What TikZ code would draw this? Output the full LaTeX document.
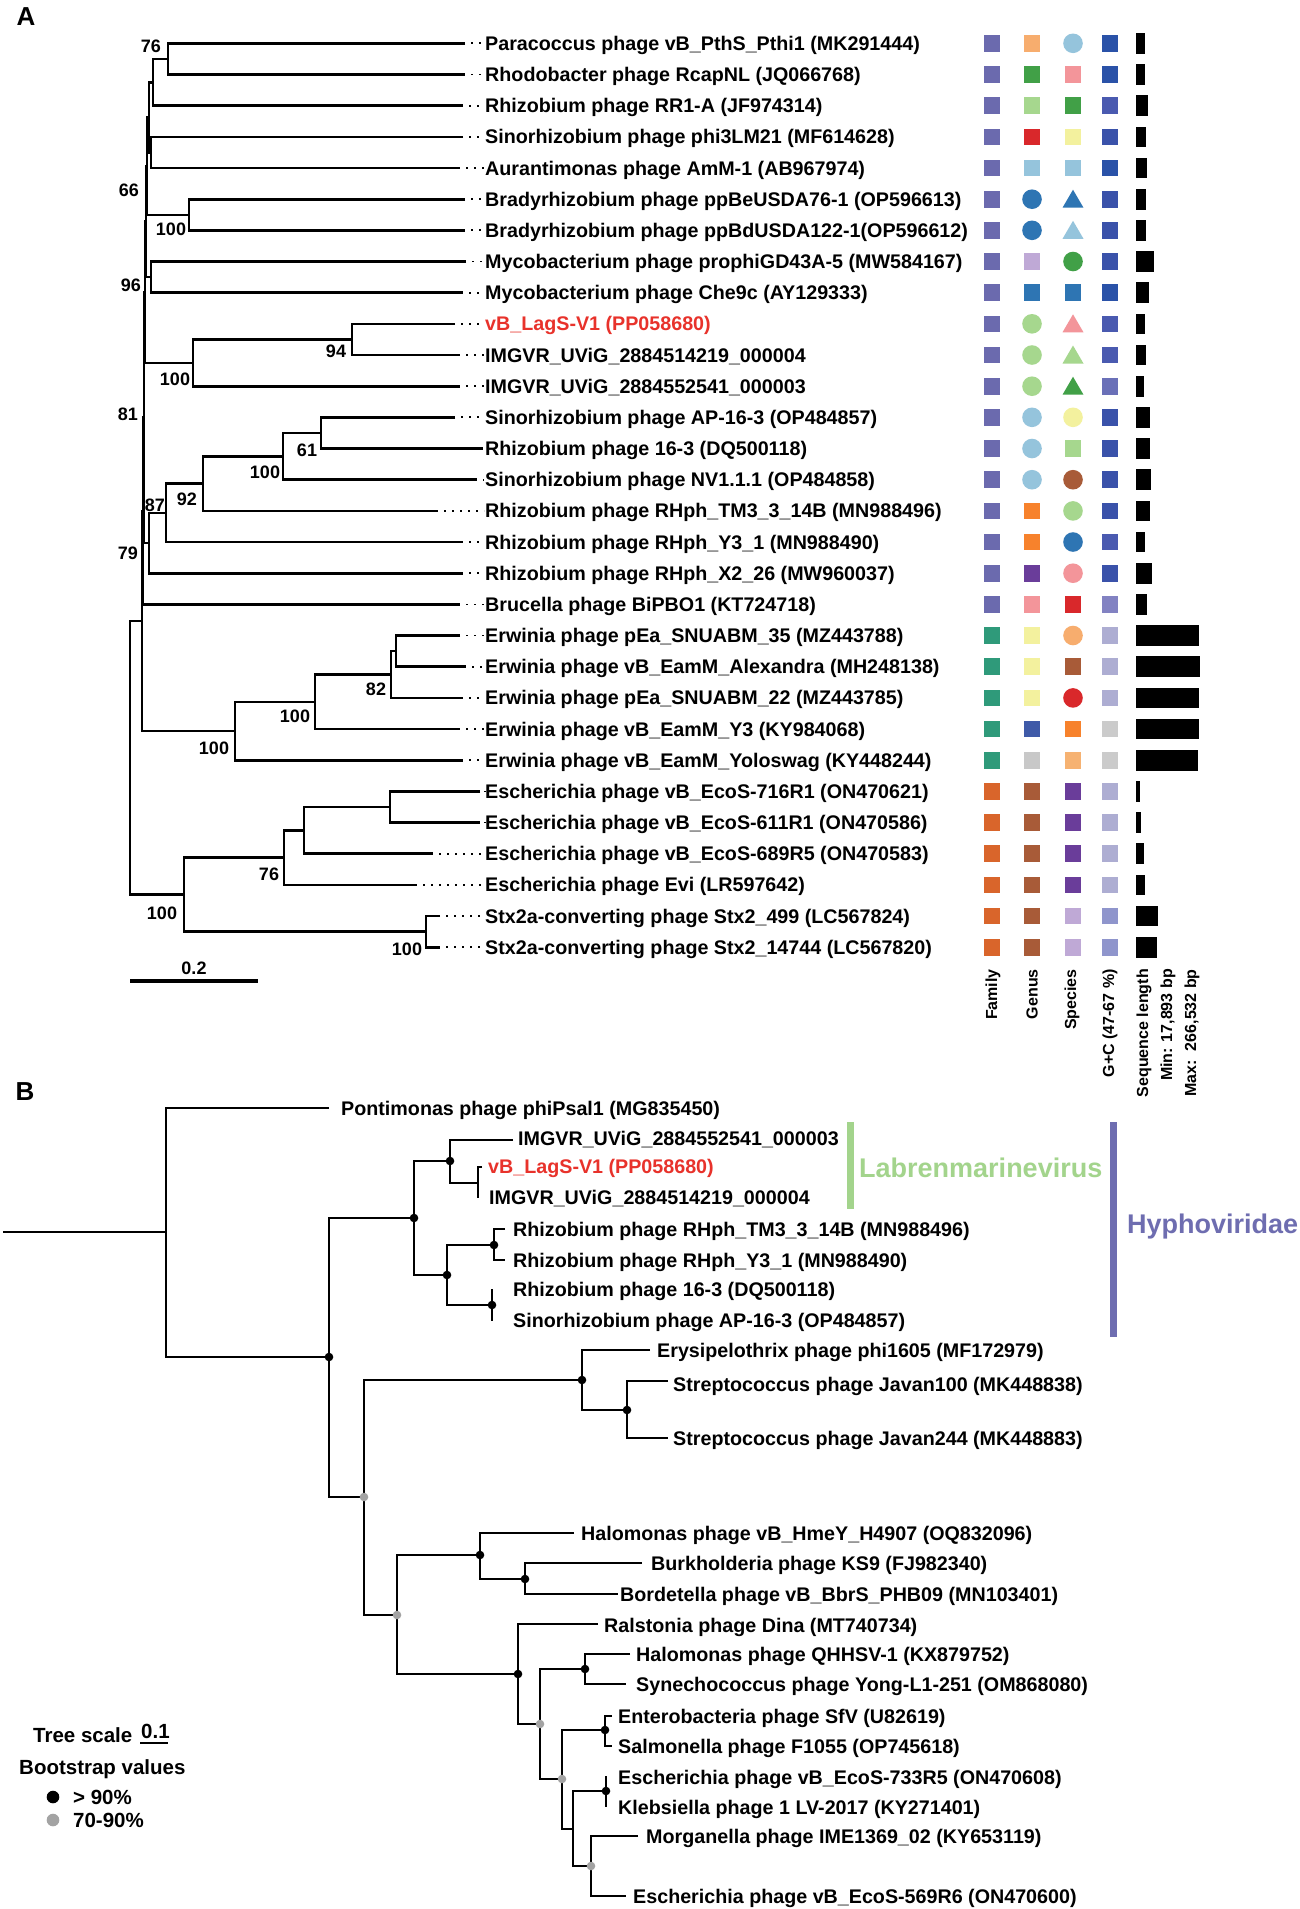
\documentclass[tikz,border=0pt]{standalone}
\usepackage{fontspec}
\setmainfont{Liberation Sans}
\definecolor{fam1}{HTML}{6B6AAE}
\definecolor{fam2}{HTML}{2F9A7A}
\definecolor{fam3}{HTML}{D9652B}
\definecolor{lorange}{HTML}{F7AD6E}
\definecolor{lorangeb}{HTML}{F6B272}
\definecolor{cgreen}{HTML}{41A047}
\definecolor{lgreen}{HTML}{A6D78E}
\definecolor{cred}{HTML}{D9282B}
\definecolor{lblue}{HTML}{95C4DC}
\definecolor{cblue}{HTML}{2E75B3}
\definecolor{lav}{HTML}{BFA9D6}
\definecolor{corange}{HTML}{F7822C}
\definecolor{cpurple}{HTML}{6A3D9A}
\definecolor{cpink}{HTML}{F3959A}
\definecolor{cyellow}{HTML}{F3F19E}
\definecolor{dblue}{HTML}{3F5AA8}
\definecolor{cgrey}{HTML}{C8C8C8}
\definecolor{cbrown}{HTML}{A85B38}
\definecolor{gcA}{HTML}{2A52A8}
\definecolor{gcB}{HTML}{4A5AB0}
\definecolor{gcC}{HTML}{3A52AA}
\definecolor{gcD}{HTML}{6A70B8}
\definecolor{gcE}{HTML}{8282C2}
\definecolor{gcF}{HTML}{ADADD2}
\definecolor{gcG}{HTML}{CBCBCB}
\definecolor{gcH}{HTML}{8F95CC}
\definecolor{labred}{HTML}{E8322B}
\definecolor{labgreen}{HTML}{A3D48C}
\definecolor{hyph}{HTML}{6E6DB0}
\definecolor{dotgrey}{HTML}{A3A3A3}
\newcommand\fL{\fontsize{19.7}{22}\selectfont\bfseries}
\newcommand\fG{\fontsize{20.5}{23}\selectfont\bfseries}
\newcommand\fBs{\fontsize{18}{20}\selectfont\bfseries}
\newcommand\fH{\fontsize{16}{19}\selectfont\bfseries}
\newcommand\fP{\fontsize{26}{28}\selectfont\bfseries}
\newcommand\fT{\fontsize{27}{30}\selectfont\bfseries}
\newcommand\mksq[3]{\fill[#3] ({#1-8.3},{#2-8.3}) rectangle ++(16.6,16.6);}
\newcommand\mkci[3]{\fill[#3] (#1,#2) circle[radius=9.8pt];}
\newcommand\mktr[3]{\fill[#3] (#1,{#2-9.5}) -- ({#1+10.5},{#2+8.5}) -- ({#1-10.5},{#2+8.5}) -- cycle;}
\newcommand\crow[8]{\mksq{992}{#1}{#2}\csname mk#3\endcsname{1032}{#1}{#4}\csname mk#5\endcsname{1073}{#1}{#6}\mksq{1110}{#1}{#7}\fill[black] (1136,{#1-10.3}) rectangle ++(#8,20.6);}
\begin{document}
\begin{tikzpicture}[x=1pt,y=-1pt,
  br/.style={line width=2.6pt},
  lead/.style={line width=1.8pt, dash pattern=on 2pt off 6pt},
  lab/.style={anchor=west, inner sep=0pt, font=\fL, text height=14pt, text depth=0pt},
  leg/.style={anchor=west, inner sep=0pt, font=\fG, text height=14.6pt, text depth=0pt},
  bs/.style={inner sep=0pt, font=\fBs},
  hdr/.style={rotate=90, anchor=east, inner sep=0pt, font=\fH},
  bdot/.style={fill=black},
  gdot/.style={fill=dotgrey}]
\useasboundingbox (0,0) rectangle (1299,1909);
\fill[white] (0,0) rectangle (1299,1909);

% ================= PANEL A =================
\node[font=\fP, inner sep=0pt] (pA) at (26,17) {A};

\foreach \i/\tx/\ty in {1/465/43.3, 2/465/74.5, 3/463/105.6, 4/463/136.8, 5/460/168.0,
  6/465/199.2, 7/465/230.3, 8/466/261.5, 9/463/292.7, 10/455/323.8, 11/460/355.0,
  12/460/386.2, 13/455/417.3, 14/483/448.5, 15/477/479.7, 16/438/510.9, 17/463/542.0,
  18/463/573.2, 19/460/604.4, 20/460/635.5, 21/466/666.7, 22/463/697.9, 23/460/729.0,
  24/463/760.2, 25/480/791.4, 26/480/822.5, 27/433/853.7, 28/417/884.9, 29/440/916.0,
  30/440/947.2}
  {\coordinate (t\i) at (\tx,\ty);
   \ifnum\i=14\else\draw[lead] ({\tx+6},\ty) -- (484,\ty);\fi}

\coordinate (n76) at (168,58.9);
\coordinate (n1) at (153,82.3);
\coordinate (n2) at (151,152.4);
\coordinate (n3) at (149,117.4);
\coordinate (nBr) at (189,214.8);
\coordinate (n66) at (147,166.1);
\coordinate (n4) at (151,277.1);
\coordinate (nX) at (146,221.6);
\coordinate (n94) at (352,339.4);
\coordinate (nIM) at (193,362.8);
\coordinate (n96) at (145,292.2);
\coordinate (n61) at (321,432.9);
\coordinate (nC) at (283,456.3);
\coordinate (n92) at (203,483.6);
\coordinate (n87) at (166,512.8);
\coordinate (nLo) at (149,543);
\coordinate (n81) at (144,417.6);
\coordinate (n79) at (143,511);
\coordinate (nE1) at (396,651.1);
\coordinate (n82) at (391,674.5);
\coordinate (nEd) at (315,701.8);
\coordinate (nEe) at (235,731);
\coordinate (nTop) at (142,621);
\coordinate (nS1) at (390,807);
\coordinate (nS2) at (304,830.3);
\coordinate (nS3) at (284,857.6);
\coordinate (nStx) at (426,931.6);
\coordinate (nSf) at (184,894.6);
\coordinate (rA) at (130,757.8);

\draw[br] (t1) -| (n76) |- (t2);
\draw[br] (n76) -| (n1) |- (t3);
\draw[br] (t4) -| (n2) |- (t5);
\draw[br] (n1) -| (n3) |- (n2);
\draw[br] (t6) -| (nBr) |- (t7);
\draw[br] (n3) -| (n66) |- (nBr);
\draw[br] (t8) -| (n4) |- (t9);
\draw[br] (n66) -| (nX) |- (n4);
\draw[br] (t10) -| (n94) |- (t11);
\draw[br] (n94) -| (nIM) |- (t12);
\draw[br] (nX) -| (n96) |- (nIM);
\draw[br] (t13) -| (n61) |- (t14);
\draw[br] (n61) -| (nC) |- (t15);
\draw[br] (nC) -| (n92) |- (t16);
\draw[br] (n92) -| (n87) |- (t17);
\draw[br] (n87) -| (nLo) |- (t18);
\draw[br] (n96) -| (n81) |- (nLo);
\draw[br] (n81) -| (n79) |- (t19);
\draw[br] (t20) -| (nE1) |- (t21);
\draw[br] (nE1) -| (n82) |- (t22);
\draw[br] (n82) -| (nEd) |- (t23);
\draw[br] (nEd) -| (nEe) |- (t24);
\draw[br] (n79) -| (nTop) |- (nEe);
\draw[br] (t25) -| (nS1) |- (t26);
\draw[br] (nS1) -| (nS2) |- (t27);
\draw[br] (nS2) -| (nS3) |- (t28);
\draw[br] (t29) -| (nStx) |- (t30);
\draw[br] (nS3) -| (nSf) |- (nStx);
\draw[br] (nTop) -| (rA) |- (nSf);

% bootstrap values
\node[bs] (b76) at (151,46) {76};
\node[bs] (b66) at (129,190) {66};
\node[bs] (b100a) at (171,229) {100};
\node[bs] (b96) at (131,285) {96};
\node[bs] (b94) at (336,351) {94};
\node[bs] (b100b) at (175,379) {100};
\node[bs] (b81) at (128,414) {81};
\node[bs] (b61) at (307,450) {61};
\node[bs] (b100c) at (265,472) {100};
\node[bs] (b92) at (187,499) {92};
\node[bs] (b87) at (155,505) {87};
\node[bs] (b79) at (128,553) {79};
\node[bs] (b82) at (376,689) {82};
\node[bs] (b100d) at (295,716) {100};
\node[bs] (b100e) at (214,748) {100};
\node[bs] (b76b) at (269,874) {76};
\node[bs] (b100f) at (162,913) {100};
\node[bs] (b100g) at (407,949) {100};

% scale bar
\coordinate (sc0) at (130,981);
\coordinate (sc1) at (258,981);
\draw[line width=4.5pt] (sc0) -- (sc1);
\node[bs] (scl) at (194,968) {0.2};

% tip labels
\node[lab] (LA1) at (485,43.3) {Paracoccus phage vB\_PthS\_Pthi1 (MK291444)};
\node[lab] (LA2) at (485,74.5) {Rhodobacter phage RcapNL (JQ066768)};
\node[lab] (LA3) at (485,105.6) {Rhizobium phage RR1-A (JF974314)};
\node[lab] (LA4) at (485,136.8) {Sinorhizobium phage phi3LM21 (MF614628)};
\node[lab] (LA5) at (485,168.0) {Aurantimonas phage AmM-1 (AB967974)};
\node[lab] (LA6) at (485,199.2) {Bradyrhizobium phage ppBeUSDA76-1 (OP596613)};
\node[lab] (LA7) at (485,230.3) {Bradyrhizobium phage ppBdUSDA122-1(OP596612)};
\node[lab] (LA8) at (485,261.5) {Mycobacterium phage prophiGD43A-5 (MW584167)};
\node[lab] (LA9) at (485,292.7) {Mycobacterium phage Che9c (AY129333)};
\node[lab, text=labred] (LA10) at (485,323.8) {vB\_LagS-V1 (PP058680)};
\node[lab] (LA11) at (485,355.0) {IMGVR\_UViG\_2884514219\_000004};
\node[lab] (LA12) at (485,386.2) {IMGVR\_UViG\_2884552541\_000003};
\node[lab] (LA13) at (485,417.3) {Sinorhizobium phage AP-16-3 (OP484857)};
\node[lab] (LA14) at (485,448.5) {Rhizobium phage 16-3 (DQ500118)};
\node[lab] (LA15) at (485,479.7) {Sinorhizobium phage NV1.1.1 (OP484858)};
\node[lab] (LA16) at (485,510.9) {Rhizobium phage RHph\_TM3\_3\_14B (MN988496)};
\node[lab] (LA17) at (485,542.0) {Rhizobium phage RHph\_Y3\_1 (MN988490)};
\node[lab] (LA18) at (485,573.2) {Rhizobium phage RHph\_X2\_26 (MW960037)};
\node[lab] (LA19) at (485,604.4) {Brucella phage BiPBO1 (KT724718)};
\node[lab] (LA20) at (485,635.5) {Erwinia phage pEa\_SNUABM\_35 (MZ443788)};
\node[lab] (LA21) at (485,666.7) {Erwinia phage vB\_EamM\_Alexandra (MH248138)};
\node[lab] (LA22) at (485,697.9) {Erwinia phage pEa\_SNUABM\_22 (MZ443785)};
\node[lab] (LA23) at (485,729.0) {Erwinia phage vB\_EamM\_Y3 (KY984068)};
\node[lab] (LA24) at (485,760.2) {Erwinia phage vB\_EamM\_Yoloswag (KY448244)};
\node[lab] (LA25) at (485,791.4) {Escherichia phage vB\_EcoS-716R1 (ON470621)};
\node[lab] (LA26) at (485,822.5) {Escherichia phage vB\_EcoS-611R1 (ON470586)};
\node[lab] (LA27) at (485,853.7) {Escherichia phage vB\_EcoS-689R5 (ON470583)};
\node[lab] (LA28) at (485,884.9) {Escherichia phage Evi (LR597642)};
\node[lab] (LA29) at (485,916.0) {Stx2a-converting phage Stx2\_499 (LC567824)};
\node[lab] (LA30) at (485,947.2) {Stx2a-converting phage Stx2\_14744 (LC567820)};

% annotation columns
\crow{43.3}{fam1}{sq}{lorange}{ci}{lblue}{gcA}{9.3}
\crow{74.5}{fam1}{sq}{cgreen}{sq}{cpink}{gcA}{9.3}
\crow{105.6}{fam1}{sq}{lgreen}{sq}{cgreen}{gcB}{12}
\crow{136.8}{fam1}{sq}{cred}{sq}{cyellow}{gcC}{9.5}
\crow{168.0}{fam1}{sq}{lblue}{sq}{lblue}{gcA}{11}
\crow{199.2}{fam1}{ci}{cblue}{tr}{cblue}{gcC}{10}
\crow{230.3}{fam1}{ci}{cblue}{tr}{lblue}{gcC}{10.3}
\crow{261.5}{fam1}{sq}{lav}{ci}{cgreen}{gcC}{18.3}
\crow{292.7}{fam1}{sq}{cblue}{sq}{cblue}{gcA}{13.3}
\crow{323.8}{fam1}{ci}{lgreen}{tr}{cpink}{gcB}{8.7}
\crow{355.0}{fam1}{ci}{lgreen}{tr}{lgreen}{gcB}{9.7}
\crow{386.2}{fam1}{ci}{lgreen}{tr}{cgreen}{gcD}{7.7}
\crow{417.3}{fam1}{ci}{lblue}{ci}{cyellow}{gcC}{14.3}
\crow{448.5}{fam1}{ci}{lblue}{sq}{lgreen}{gcC}{14.3}
\crow{479.7}{fam1}{ci}{lblue}{ci}{cbrown}{gcC}{15.3}
\crow{510.9}{fam1}{sq}{corange}{ci}{lgreen}{gcC}{13.7}
\crow{542.0}{fam1}{sq}{corange}{ci}{cblue}{gcB}{9.3}
\crow{573.2}{fam1}{sq}{cpurple}{ci}{cpink}{gcC}{16}
\crow{604.4}{fam1}{sq}{cpink}{sq}{cred}{gcE}{11}
\crow{635.5}{fam2}{sq}{cyellow}{ci}{lorange}{gcF}{62.7}
\crow{666.7}{fam2}{sq}{cyellow}{sq}{cbrown}{gcF}{63.7}
\crow{697.9}{fam2}{sq}{cyellow}{ci}{cred}{gcF}{63.3}
\crow{729.0}{fam2}{sq}{dblue}{sq}{corange}{gcG}{62.7}
\crow{760.2}{fam2}{sq}{cgrey}{sq}{lorangeb}{gcG}{62}
\crow{791.4}{fam3}{sq}{cbrown}{sq}{cpurple}{gcF}{4.3}
\crow{822.5}{fam3}{sq}{cbrown}{sq}{cpurple}{gcF}{5}
\crow{853.7}{fam3}{sq}{cbrown}{sq}{cpurple}{gcF}{8.3}
\crow{884.9}{fam3}{sq}{cbrown}{sq}{cpurple}{gcF}{9.3}
\crow{916.0}{fam3}{sq}{cbrown}{sq}{lav}{gcH}{22}
\crow{947.2}{fam3}{sq}{cbrown}{sq}{lav}{gcH}{21}

\node[hdr] (hFam) at (993,969) {Family};
\node[hdr] (hGen) at (1032,969) {Genus};
\node[hdr] (hSpe) at (1072,969) {Species};
\node[hdr] (hGC) at (1110,969) {G+C (47-67 \%)};
\node[hdr] (hSeq) at (1144,969) {Sequence length};
\node[hdr] (hMin) at (1168,969) {Min: 17,893 bp};
\node[hdr] (hMax) at (1192,969) {Max:\ \ 266,532 bp};

% ================= PANEL B =================
\node[font=\fP, inner sep=0pt] (pB) at (25,1092) {B};

\coordinate (B0) at (3,1232);
\coordinate (rB) at (166,1232);
\coordinate (tPo) at (329,1108);
\coordinate (nB1) at (329,1357);
\coordinate (nHy) at (414,1218);
\coordinate (nLab) at (450,1161);
\coordinate (tIM3) at (513,1140);
\coordinate (nV) at (478,1183);
\coordinate (tVB) at (482,1167);
\coordinate (tIM4) at (478,1198);
\coordinate (nRh) at (447,1275);
\coordinate (nTM) at (494,1245);
\coordinate (tTM) at (505,1229);
\coordinate (tY3) at (505,1260);
\coordinate (n16) at (492,1305);
\coordinate (t16) at (492,1289);
\coordinate (tAP) at (492,1321);
\coordinate (nB2) at (364,1497);
\coordinate (nStr) at (582,1380);
\coordinate (tEry) at (650,1350);
\coordinate (nJav) at (627,1410);
\coordinate (tJ1) at (668,1381);
\coordinate (tJ2) at (668,1438);
\coordinate (nB3) at (397,1615);
\coordinate (nHal) at (480,1555);
\coordinate (tHal) at (574,1533);
\coordinate (nBur) at (525,1579);
\coordinate (tBur) at (642,1563);
\coordinate (tBor) at (618,1594);
\coordinate (nR) at (518,1674);
\coordinate (tRal) at (598,1624);
\coordinate (nC1) at (540,1724);
\coordinate (nQH) at (585,1669);
\coordinate (tQH) at (630,1654);
\coordinate (tSy) at (626,1684);
\coordinate (nC2) at (562,1779);
\coordinate (nSfV) at (605,1730);
\coordinate (tSfV) at (612,1716);
\coordinate (tSal) at (612,1746);
\coordinate (nC3) at (573,1829);
\coordinate (nEK) at (606,1791);
\coordinate (tE7) at (606,1776);
\coordinate (tKl) at (606,1807);
\coordinate (nMo) at (591,1866);
\coordinate (tMo) at (638,1836);
\coordinate (tE5) at (626,1896);

\draw[br] (B0) -- (rB);
\draw[br] (tPo) -| (rB) |- (nB1);
\draw[br] (nLab) -| (nHy) |- (nRh);
\draw[br] (tIM3) -| (nLab) |- (nV);
\draw[br] (tVB) -| (nV) |- (tIM4);
\draw[br] (tTM) -| (nTM) |- (tY3);
\draw[br] (t16) -| (n16) |- (tAP);
\draw[br] (nTM) -| (nRh) |- (n16);
\draw[br] (nHy) -| (nB1) |- (nB2);
\draw[br] (tEry) -| (nStr) |- (nJav);
\draw[br] (tJ1) -| (nJav) |- (tJ2);
\draw[br] (nStr) -| (nB2) |- (nB3);
\draw[br] (tHal) -| (nHal) |- (nBur);
\draw[br] (tBur) -| (nBur) |- (tBor);
\draw[br] (nHal) -| (nB3) |- (nR);
\draw[br] (tRal) -| (nR) |- (nC1);
\draw[br] (tQH) -| (nQH) |- (tSy);
\draw[br] (nQH) -| (nC1) |- (nC2);
\draw[br] (tSfV) -| (nSfV) |- (tSal);
\draw[br] (nSfV) -| (nC2) |- (nC3);
\draw[br] (tE7) -| (nEK) |- (tKl);
\draw[br] (nEK) -| (nC3) |- (nMo);
\draw[br] (tMo) -| (nMo) |- (tE5);

\foreach \c in {nB1,nHy,nLab,nRh,nTM,n16,nStr,nJav,nHal,nBur,nR,nQH,nSfV,nEK}
  \fill[bdot] (\c) circle[radius=4.3pt];
\foreach \c in {nB2,nB3,nC1,nC2,nMo}
  \fill[gdot] (\c) circle[radius=4.3pt];

\node[lab] (LB1) at (341,1108) {Pontimonas phage phiPsal1 (MG835450)};
\node[lab] (LB2) at (518,1138) {IMGVR\_UViG\_2884552541\_000003};
\node[lab, text=labred] (LB3) at (488,1166) {vB\_LagS-V1 (PP058680)};
\node[lab] (LB4) at (489,1197) {IMGVR\_UViG\_2884514219\_000004};
\node[lab] (LB5) at (513,1229) {Rhizobium phage RHph\_TM3\_3\_14B (MN988496)};
\node[lab] (LB6) at (513,1260) {Rhizobium phage RHph\_Y3\_1 (MN988490)};
\node[lab] (LB7) at (513,1289) {Rhizobium phage 16-3 (DQ500118)};
\node[lab] (LB8) at (513,1320) {Sinorhizobium phage AP-16-3 (OP484857)};
\node[lab] (LB9) at (657,1350) {Erysipelothrix phage phi1605 (MF172979)};
\node[lab] (LB10) at (673,1384) {Streptococcus phage Javan100 (MK448838)};
\node[lab] (LB11) at (673,1438) {Streptococcus phage Javan244 (MK448883)};
\node[lab] (LB12) at (581,1533) {Halomonas phage vB\_HmeY\_H4907 (OQ832096)};
\node[lab] (LB13) at (651,1563) {Burkholderia phage KS9 (FJ982340)};
\node[lab] (LB14) at (620,1594) {Bordetella phage vB\_BbrS\_PHB09 (MN103401)};
\node[lab] (LB15) at (604,1625) {Ralstonia phage Dina (MT740734)};
\node[lab] (LB16) at (636,1654) {Halomonas phage QHHSV-1 (KX879752)};
\node[lab] (LB17) at (636,1684) {Synechococcus phage Yong-L1-251 (OM868080)};
\node[lab] (LB18) at (618,1716) {Enterobacteria phage SfV (U82619)};
\node[lab] (LB19) at (618,1746) {Salmonella phage F1055 (OP745618)};
\node[lab] (LB20) at (618,1777) {Escherichia phage vB\_EcoS-733R5 (ON470608)};
\node[lab] (LB21) at (618,1807) {Klebsiella phage 1 LV-2017 (KY271401)};
\node[lab] (LB22) at (646,1836) {Morganella phage IME1369\_02 (KY653119)};
\node[lab] (LB23) at (633,1896) {Escherichia phage vB\_EcoS-569R6 (ON470600)};

% clade bars
\coordinate (gb0) at (850,1122);
\coordinate (gb1) at (850,1209);
\draw[line width=7pt, labgreen] (gb0) -- (gb1);
\node[anchor=west, inner sep=0pt, font=\fT, text=labgreen] (tLab) at (859,1168) {Labrenmarinevirus};
\coordinate (hb0) at (1113,1122);
\coordinate (hb1) at (1113,1337);
\draw[line width=7pt, hyph] (hb0) -- (hb1);
\node[anchor=west, inner sep=0pt, font=\fT, text=hyph] (tHyp) at (1127,1227) {Hyphoviridae};

% legend
\node[leg] (lgTS) at (33,1735) {Tree scale};
\node[leg] (lgSc) at (141,1731) {0.1};
\coordinate (ul0) at (140,1743);
\coordinate (ul1) at (168,1743);
\draw[line width=2pt] (ul0) -- (ul1);
\node[leg] (lgBV) at (19,1767) {Bootstrap values};
\coordinate (ld1) at (53,1797);
\coordinate (ld2) at (53,1820);
\fill[bdot] (ld1) circle[radius=6.3pt];
\fill[gdot] (ld2) circle[radius=6.3pt];
\node[leg] (lg1) at (73,1797) {> 90\%};
\node[leg] (lg2) at (73,1820) {70-90\%};
\end{tikzpicture}
\end{document}
